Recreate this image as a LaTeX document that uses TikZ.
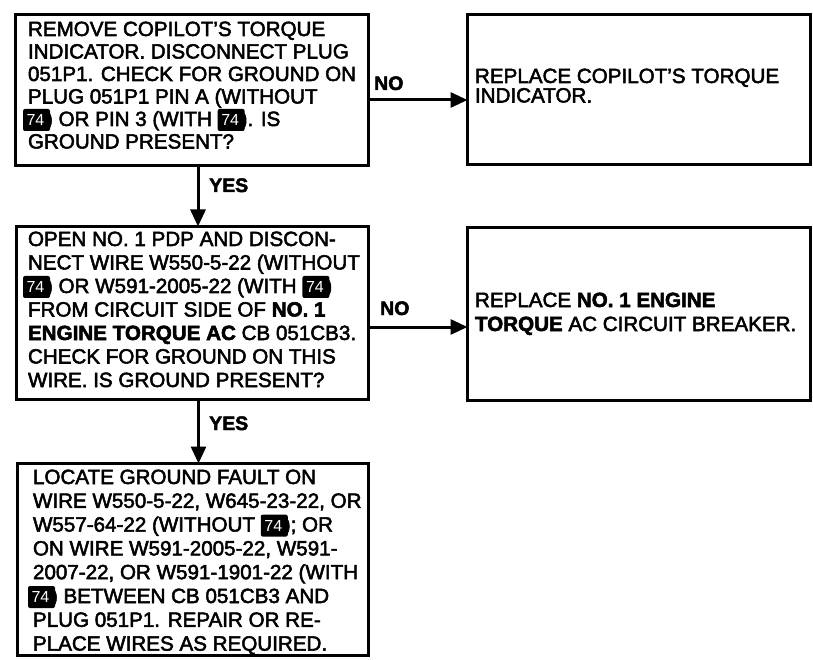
\documentclass[tikz,border=0pt]{standalone}
\usepackage{fontspec}
\setmainfont{Liberation Sans}[FakeBold=2.5]
\newfontfamily\badgefont{Liberation Sans}
\usetikzlibrary{arrows.meta}
\newcommand\badge{\leavevmode\tikz[baseline=0pt,x=1pt,y=1pt]{\fill[black,rounded corners=2pt] (0,-5) rectangle (27,17); \node[anchor=center,inner sep=0pt,outer sep=0pt,text=white,font=\badgefont\fontsize{16}{16}\selectfont] at (12.5,6) {74};}\kern-4pt}
\newcommand\lbadge{\hspace*{-5pt}\badge}
\newcommand\boxtext[2]{\parbox[t]{380pt}{\raggedright\fontsize{20.6}{#1}\selectfont #2}}
\tikzset{
  box/.style={draw=black, line width=3pt, rectangle, inner sep=0pt, outer sep=0pt, anchor=north west},
  txt/.style={anchor=base west, inner sep=0pt, outer sep=0pt},
  lbl/.style={anchor=base west, inner sep=0pt, font=\fontsize{19.5}{19.5}\selectfont\bfseries},
  arr/.style={line width=3pt, -{Triangle[length=17pt,width=15pt]}}
}
\begin{document}
\begin{tikzpicture}[x=1pt,y=-1pt]
\useasboundingbox (0,0) rectangle (813,660);
% boxes
\node[box, minimum width=353pt, minimum height=151pt] (b1) at (15.5,14.5) {};
\node[box, minimum width=343pt, minimum height=150pt] (b2) at (467.5,14.5) {};
\node[box, minimum width=352pt, minimum height=173pt] (b3) at (16.5,226.5) {};
\node[box, minimum width=343pt, minimum height=173pt] (b4) at (467.5,227.5) {};
\node[box, minimum width=351pt, minimum height=192pt] (b5) at (17.5,463.5) {};
% texts
\node[txt] (t1) at (28,36) {\boxtext{22.5}{REMOVE COPILOT'S TORQUE\\
INDICATOR. DISCONNECT PLUG\\
051P1. CHECK FOR GROUND ON\\
PLUG 051P1 PIN A (WITHOUT\\
\lbadge) OR PIN 3 (WITH \badge). IS\\
GROUND PRESENT?}};
\node[txt] (t2) at (475,83) {\boxtext{19.5}{REPLACE COPILOT'S TORQUE\\
INDICATOR.}};
\node[txt] (t3) at (28,246) {\boxtext{23.5}{OPEN NO. 1 PDP AND DISCON-\\
NECT WIRE W550-5-22 (WITHOUT\\
\lbadge) OR W591-2005-22 (WITH \badge)\\
FROM CIRCUIT SIDE OF \textbf{NO. 1}\\
\textbf{ENGINE TORQUE AC} CB 051CB3.\\
CHECK FOR GROUND ON THIS\\
WIRE. IS GROUND PRESENT?}};
\node[txt] (t4) at (475,307) {\boxtext{24}{REPLACE \textbf{NO. 1 ENGINE}\\
\textbf{TORQUE} AC CIRCUIT BREAKER.}};
\node[txt] (t5) at (33,484) {\boxtext{23.8}{LOCATE GROUND FAULT ON\\
WIRE W550-5-22, W645-23-22, OR\\
W557-64-22 (WITHOUT \badge); OR\\
ON WIRE W591-2005-22, W591-\\
2007-22, OR W591-1901-22 (WITH\\
\lbadge) BETWEEN CB 051CB3 AND\\
PLUG 051P1. REPAIR OR RE-\\
PLACE WIRES AS REQUIRED.}};
% connectors
\draw[arr] ([yshift=-10pt]b1.east) -- ([yshift=-10pt]b1.east -| b2.west);
\draw[arr] ([yshift=-14pt]b3.east) -- ([yshift=-14pt]b3.east -| b4.west);
\draw[arr] ([xshift=6pt]b1.south) -- ([xshift=6pt]b1.south |- b3.north);
\draw[arr] ([xshift=6pt]b3.south) -- ([xshift=6pt]b3.south |- b5.north);
% labels
\node[lbl] (no1) at (374,90) {NO};
\node[lbl] (no2) at (380,315) {NO};
\node[lbl] (yes1) at (209,192) {YES};
\node[lbl] (yes2) at (209,430) {YES};
\end{tikzpicture}
\end{document}
